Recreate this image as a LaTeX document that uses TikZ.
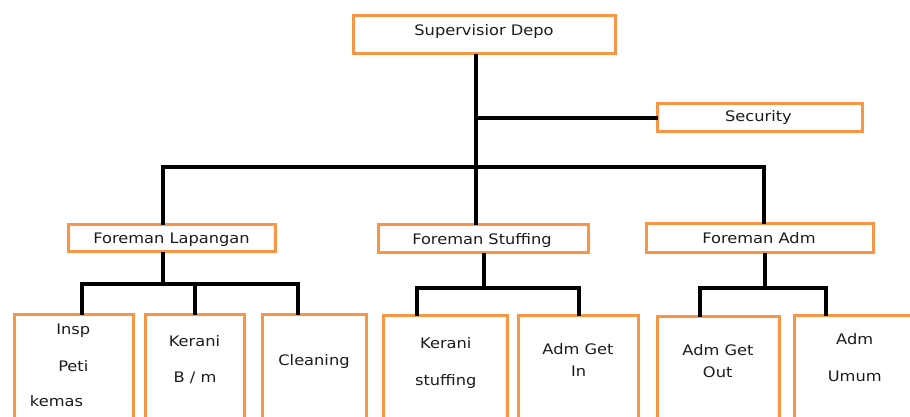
\documentclass[tikz,border=0pt]{standalone}
\usepackage{fontspec}
\setmainfont[FakeStretch=1.12]{DejaVu Sans}
\definecolor{boxorange}{HTML}{F79646}
\definecolor{txt}{HTML}{1C1C1C}
\tikzset{
  box/.style={draw=boxorange, line width=3pt, fill=white, inner sep=0pt, outer sep=0pt},
  conn/.style={draw=black, line width=4pt, line join=miter},
  lbl/.style={anchor=base, inner sep=0pt, text=txt, font=\fontsize{14.5}{17}\selectfont}
}
\begin{document}
\begin{tikzpicture}[x=1pt,y=-1pt]
\useasboundingbox (0,0) rectangle (910,416);
\fill[white] (0,0) rectangle (910,416);
\clip (0,0) rectangle (910,416);

% boxes (outer edges measured, border centred 1.5 inside)
\node[box, minimum width=262pt, minimum height=38pt] (sup) at (484.5,34.5) {};
\node[box, minimum width=205pt, minimum height=28pt] (sec) at (760,117.5) {};
\node[box, minimum width=207pt, minimum height=27pt] (fl) at (172,238) {};
\node[box, minimum width=210pt, minimum height=28pt] (fs) at (483.5,238.5) {};
\node[box, minimum width=227pt, minimum height=29pt] (fa) at (760,238) {};

\node[box, minimum width=119pt, minimum height=140pt] (b1) at (74,384.5) {};
\node[box, minimum width=99pt,  minimum height=140pt] (b2) at (195,384.5) {};
\node[box, minimum width=104pt, minimum height=140pt] (b3) at (314.5,384.5) {};
\node[box, minimum width=124pt, minimum height=140pt] (b4) at (445.5,385.5) {};
\node[box, minimum width=120pt, minimum height=140pt] (b5) at (578.5,385.5) {};
\node[box, minimum width=122pt, minimum height=140pt] (b6) at (718.5,386.5) {};
\node[box, minimum width=140pt, minimum height=140pt] (b7) at (864,385.5) {};

% texts
\node[lbl] (tsup) at (484,35) {Supervisior Depo};
\node[lbl] (tsec) at (758.5,121) {Security};
\node[lbl] (tfl) at (171.5,243) {Foreman Lapangan};
\node[lbl] (tfs) at (482,244) {Foreman Stuffing};
\node[lbl] (tfa) at (759,243.5) {Foreman Adm};

\node[lbl] (t1a) at (73.3,334) {Insp};
\node[lbl] (t1b) at (73.3,371.5) {Peti};
\node[lbl] (t1c) at (56.5,406) {kemas};
\node[lbl] (t2a) at (194.5,346.5) {Kerani};
\node[lbl] (t2b) at (195,382.5) {B / m};
\node[lbl] (t3a) at (314,365.5) {Cleaning};
\node[lbl] (t4a) at (445.8,348) {Kerani};
\node[lbl] (t4b) at (445.8,385) {stuffing};
\node[lbl] (t5a) at (578,354) {Adm Get};
\node[lbl] (t5b) at (578.7,376) {In};
\node[lbl] (t6a) at (718,355) {Adm Get};
\node[lbl] (t6b) at (717.7,377.5) {Out};
\node[lbl] (t7a) at (854.7,344.5) {Adm};
\node[lbl] (t7b) at (854.7,381) {Umum};

% junction coordinates
\coordinate (trunk) at (476,167);
\coordinate (barL) at (163,167);
\coordinate (barR) at (764,167);
\coordinate (flj) at (163,284);
\coordinate (fsj) at (483.5,288);
\coordinate (faj) at (765,288);

% top level connectors
\draw[conn] (sup.south -| trunk) -- (fs.north -| trunk);
\draw[conn] (trunk |- sec.west) -- (sec.west);
\draw[conn] (fl.north -| barL) -- (barL) -- (barR) -- (fa.north -| barR);

% Foreman Lapangan
\draw[conn] (fl.south -| flj) -- (flj);
\draw[conn] (b1.north -| 82,0) -- (82,284) -- (298,284) -- (b3.north -| 298,0);
\draw[conn] (195,284) -- (b2.north -| 195,0);

% Foreman Stuffing
\draw[conn] (fs.south -| fsj) -- (fsj);
\draw[conn] (b4.north -| 417,0) -- (417,288) -- (579,288) -- (b5.north -| 579,0);

% Foreman Adm
\draw[conn] (fa.south -| faj) -- (faj);
\draw[conn] (b6.north -| 699.5,0) -- (699.5,288) -- (826,288) -- (b7.north -| 826,0);
\end{tikzpicture}
\end{document}
